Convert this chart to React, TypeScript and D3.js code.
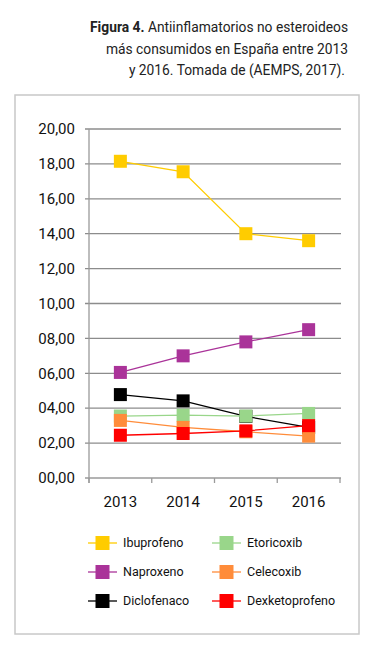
import React from "react";
import * as d3 from "d3";

const years = ["2013", "2014", "2015", "2016"];
const yTicks = [0, 2, 4, 6, 8, 10, 12, 14, 16, 18, 20];

const seriesNames = ["Ibuprofeno", "Naproxeno", "Diclofenaco", "Etoricoxib", "Celecoxib", "Dexketoprofeno"];
const seriesColors = ["#FFCC00", "#AA3399", "#000000", "#99D68A", "#FF8C3A", "#FF0000"];
const ibuprofeno = [18.15, 17.55, 14.0, 13.6];
const naproxeno = [6.05, 7.0, 7.8, 8.5];
const diclofenaco = [4.78, 4.42, 3.53, 2.9];
const etoricoxib = [3.55, 3.6, 3.55, 3.7];
const celecoxib = [3.3, 2.9, 2.65, 2.4];
const dexketoprofeno = [2.45, 2.55, 2.7, 3.0];
const seriesValues = [ibuprofeno, naproxeno, diclofenaco, etoricoxib, celecoxib, dexketoprofeno];

const titleLines = [
  { bold: "Figura 4.", rest: " Antiinflamatorios no esteroideos" },
  { bold: "", rest: "más consumidos en España entre 2013" },
  { bold: "", rest: "y 2016. Tomada de (AEMPS, 2017)." },
];

const FONT = "Roboto, 'Noto Sans', sans-serif";

export default function App() {
  const W = 375, H = 649;
  const left = 89, right = 340, top = 129, bottom = 478;
  const x = d3.scaleBand<string>().domain(years).range([left, right]);
  const y = d3.scaleLinear().domain([0, 20]).range([bottom, top]);
  const cx = (yr: string) => (x(yr) as number) + x.bandwidth() / 2;
  const line = d3
    .line<number>()
    .x((_, i) => cx(years[i]))
    .y((d) => y(d));
  const ms = 13;

  const legendX = [88, 212];
  const legendY = [543, 572, 601];

  return (
    <svg width={W} height={H} style={{ position: "absolute", left: 0, top: 0, background: "#fff" }} fontFamily={FONT}>
      {titleLines.map((l, i) => (
        <text key={i} x={i === 2 ? 345 : 348} y={32 + i * 21.5} textAnchor="end" fontSize={13.8} fill="#222">
          {l.bold && <tspan fontWeight="bold">{l.bold}</tspan>}
          <tspan>{l.rest}</tspan>
        </text>
      ))}
      <rect x={15} y={95} width={344} height={539} fill="none" stroke="#c8c8c8" strokeWidth={1.5} />

      {yTicks.map((t) => (
        <g key={t}>
          <line x1={left - 4} x2={right + 1} y1={y(t)} y2={y(t)} stroke={t === 0 ? "#9a9a9a" : "#8c8c8c"} strokeWidth={1.3} />
          <text x={75} y={y(t)} dy="0.35em" textAnchor="end" fontSize={15} fill="#111">
            {d3.format("02d")(t) + ",00"}
          </text>
        </g>
      ))}
      <line x1={left} x2={left} y1={top} y2={bottom + 5} stroke="#9a9a9a" strokeWidth={1.3} />
      {[...years.map((yr) => x(yr) as number), right].map((v, i) => (
        <line key={i} x1={v} x2={v} y1={bottom} y2={bottom + 5} stroke="#9a9a9a" strokeWidth={1.3} />
      ))}
      {years.map((yr) => (
        <text key={yr} x={cx(yr)} y={507} textAnchor="middle" fontSize={15} fill="#111">
          {yr}
        </text>
      ))}

      {seriesValues.map((vals, si) => (
        <g key={si}>
          <path d={line(vals) as string} fill="none" stroke={seriesColors[si]} strokeWidth={1.3} />
          {vals.map((v, i) => (
            <rect key={i} x={cx(years[i]) - ms / 2} y={y(v) - ms / 2} width={ms} height={ms} fill={seriesColors[si]} />
          ))}
        </g>
      ))}

      {seriesNames.map((name, i) => {
        const lx = legendX[Math.floor(i / 3)];
        const ly = legendY[i % 3];
        return (
          <g key={name}>
            <line x1={lx} x2={lx + 29} y1={ly} y2={ly} stroke={seriesColors[i]} strokeWidth={1.3} />
            <rect x={lx + 14.5 - 7} y={ly - 7} width={14} height={14} fill={seriesColors[i]} />
            <text x={lx + 35} y={ly} dy="0.35em" fontSize={12.5} fill="#111">
              {name}
            </text>
          </g>
        );
      })}
    </svg>
  );
}
